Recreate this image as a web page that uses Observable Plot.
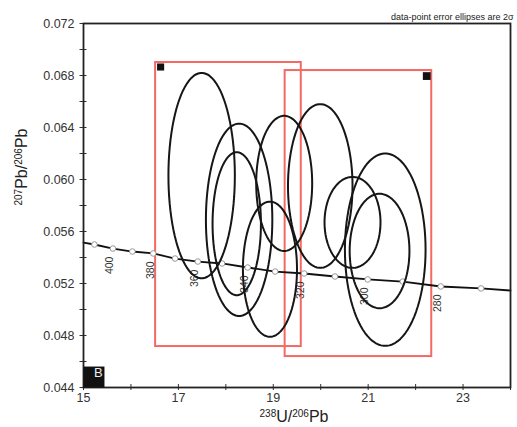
<!DOCTYPE html>
<html>
<head>
<meta charset="utf-8">
<script src="https://cdn.jsdelivr.net/npm/d3@7"></script>
<script src="https://cdn.jsdelivr.net/npm/@observablehq/plot@0.6"></script>
<style>
  html, body { margin: 0; padding: 0; background: #fff; }
  #chart { width: 517px; height: 427px; }
</style>
</head>
<body>
<div id="chart"></div>
<script>
// ---- data ----
// error ellipses: centre (x,y) and semi-axes (rx, ry)
const ellipseX  = [17.49, 18.28, 18.23, 19.23, 19.99, 18.93, 20.67, 21.36, 21.24];
const ellipseY  = [0.0603, 0.0569, 0.0566, 0.0597, 0.0595, 0.0531, 0.0567, 0.0546, 0.0545];
const ellipseRX = [0.70, 0.70, 0.51, 0.59, 0.68, 0.57, 0.59, 0.85, 0.63];
const ellipseRY = [0.0079, 0.0074, 0.0055, 0.0052, 0.0063, 0.0052, 0.0035, 0.0074, 0.0044];

// concordia markers (age in Ma, 238U/206Pb, 207Pb/206Pb)
const markerAge = [410, 400, 390, 380, 370, 360, 350, 340, 330, 320, 310, 300, 290, 280, 270];
const markerX   = [15.23, 15.62, 16.03, 16.47, 16.93, 17.41, 17.92, 18.46, 19.04, 19.65, 20.30, 20.99, 21.73, 22.53, 23.38];
const markerY   = [0.0550, 0.05469, 0.05446, 0.05431, 0.05392, 0.05369, 0.05354, 0.05323, 0.05292, 0.05277, 0.05254, 0.05231, 0.05215, 0.05177, 0.05162];
const labelAges = [400, 380, 360, 340, 320, 300, 280];
// concordia curve ends at the plot edges
const lineStartX = 15, lineStartY = 0.05515;
const lineEndX = 24, lineEndY = 0.05146;

// red selection boxes [x1, x2, y1, y2]
const boxX1 = [16.52, 19.25];
const boxX2 = [19.59, 22.34];
const boxY1 = [0.04715, 0.04638];
const boxY2 = [0.0690, 0.06838];

// ticks
const xTicks = [15, 16, 17, 18, 19, 20, 21, 22, 23, 24];
const xTickLabels = [15, 17, 19, 21, 23];
const yTicks = [0.044, 0.046, 0.048, 0.050, 0.052, 0.054, 0.056, 0.058, 0.060, 0.062, 0.064, 0.066, 0.068, 0.070, 0.072];
const yTickLabels = [0.044, 0.048, 0.052, 0.056, 0.060, 0.064, 0.068, 0.072];

const titleText = "data-point error ellipses are 2σ";
const panelLabel = "B";
// axis titles as [text, isSuperscript] parts
const xLabelParts = [["238", true], ["U/", false], ["206", true], ["Pb", false]];
const yLabelParts = [["207", true], ["Pb/", false], ["206", true], ["Pb", false]];
const xLabel = xLabelParts.map(p => p[0]).join("");
const yLabel = yLabelParts.map(p => p[0]).join("");

// ---- build tables ----
const ellipsePts = [];
ellipseX.forEach((cx, i) => {
  for (let k = 0; k <= 90; k++) {
    const a = (k / 90) * 2 * Math.PI;
    ellipsePts.push({id: i, x: cx + ellipseRX[i] * Math.cos(a), y: ellipseY[i] + ellipseRY[i] * Math.sin(a)});
  }
});
const markers = markerAge.map((age, i) => ({age, x: markerX[i], y: markerY[i]}));
const concordia = [{x: lineStartX, y: lineStartY}, ...markers, {x: lineEndX, y: lineEndY}];
const labels = markers.filter(d => labelAges.includes(d.age));
const boxes = boxX1.map((x1, i) => ({x1, x2: boxX2[i], y1: boxY1[i], y2: boxY2[i], i}));

const font = "'Liberation Sans', Arial, sans-serif";

const chart = Plot.plot({
  width: 517,
  height: 427,
  marginLeft: 83,
  marginRight: 7,
  marginTop: 23,
  marginBottom: 40,
  style: {fontFamily: font, fontSize: "12px", background: "#fff", color: "#333"},
  x: {domain: [15, 24]},
  y: {domain: [0.044, 0.072]},
  marks: [
    // red boxes
    Plot.rect(boxes, {x1: "x1", x2: "x2", y1: "y1", y2: "y2", fill: "none", stroke: "#f26a63", strokeWidth: 2}),
    // concordia
    Plot.line(concordia, {x: "x", y: "y", stroke: "#111", strokeWidth: 1.8}),
    Plot.dot(markers, {x: "x", y: "y", r: 2.8, fill: "#fff", stroke: "#999", strokeWidth: 1}),
    Plot.text(labels, {x: "x", y: "y", text: d => String(d.age), rotate: -90, textAnchor: "end", dy: 8, dx: -3, fontSize: 10.5, fill: "#333"}),
    // error ellipses
    Plot.line(ellipsePts, {x: "x", y: "y", z: "id", stroke: "#161616", strokeWidth: 2, curve: "linear-closed"}),
    // black corner squares of boxes
    Plot.dot(boxes.filter(b => b.i === 0), {x: "x1", y: "y2", symbol: "square", r: 4, fill: "#111", dx: 5, dy: 4.5}),
    Plot.dot(boxes.filter(b => b.i === 1), {x: "x2", y: "y2", symbol: "square", r: 4.4, fill: "#111", dx: -5, dy: 5.5}),
    // axes: cross ticks
    Plot.axisX({ticks: xTicks, tickSize: 6, dy: -3, text: null, stroke: "#333"}),
    Plot.axisX({ticks: xTickLabels, tickSize: 0, tickPadding: 6, tickFormat: d => String(d), fontSize: 12.5, fill: "#333", label: null}),
    Plot.axisY({ticks: yTicks, tickSize: 7, dx: 3.5, text: null, stroke: "#333"}),
    Plot.axisY({ticks: yTickLabels, tickSize: 0, tickPadding: 9, tickFormat: d3.format(".3f"), fontSize: 12.5, fill: "#333", label: null}),
    Plot.frame({stroke: "#222", strokeWidth: 1.8}),
    // panel label
    Plot.dot([panelLabel], {frameAnchor: "bottom-left", symbol: "square", r: 11.8, fill: "#111", dx: 10.5, dy: -10.5}),
    Plot.text([panelLabel], {frameAnchor: "bottom-left", text: d => d, fill: "#eee", fontSize: 13, dx: 10.5, dy: -10.5}),
    // title and axis labels
    Plot.text([titleText], {frameAnchor: "top-right", text: d => d, fontSize: 9, fill: "#222", textAnchor: "end", dy: -10, dx: 3}),
    Plot.text([xLabel], {frameAnchor: "bottom", text: d => d, fontSize: 16, fill: "#222", dy: 34, dx: -3}),
    Plot.text([yLabel], {frameAnchor: "left", text: d => d, fontSize: 16, fill: "#222", rotate: -90, dx: -62, dy: 0})
  ]
});
document.getElementById("chart").appendChild(chart);

// render superscripts of the axis titles as tspans
function superscript(label, parts) {
  d3.select(chart).selectAll("text").filter(function() { return this.textContent === label; })
    .each(function() {
      const t = d3.select(this);
      t.text(null);
      parts.forEach(([s, sup]) => {
        const ts = t.append("tspan").text(s);
        if (sup) ts.attr("font-size", 10).attr("baseline-shift", "super");
      });
    });
}
superscript(xLabel, xLabelParts);
superscript(yLabel, yLabelParts);
</script>
</body>
</html>
